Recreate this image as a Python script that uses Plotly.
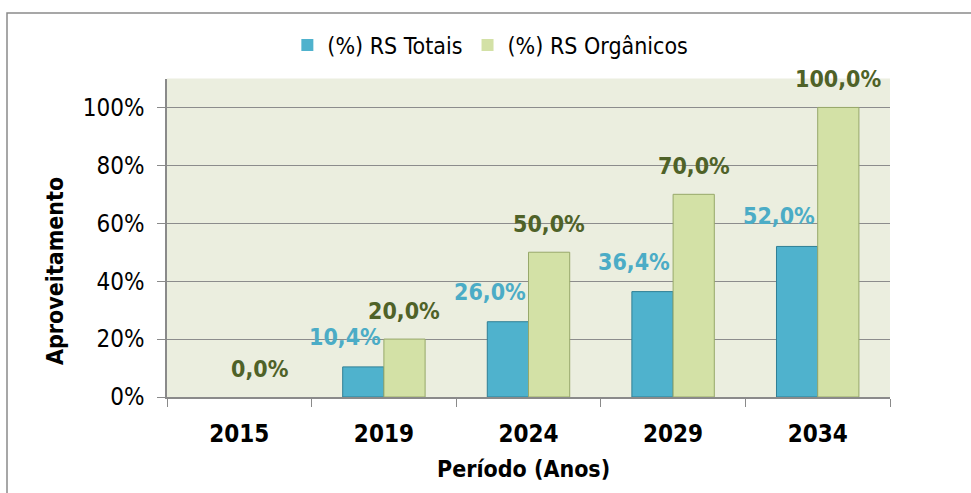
import plotly.graph_objects as go

anos = ["2015", "2019", "2024", "2029", "2034"]
rs_totais = [0.0, 10.4, 26.0, 36.4, 52.0]
rs_organicos = [0.0, 20.0, 50.0, 70.0, 100.0]
y_ticks = [0, 20, 40, 60, 80, 100]
y_tick_labels = ["0%", "20%", "40%", "60%", "80%", "100%"]

FONT = "DejaVu Sans Condensed, Liberation Sans Narrow, sans-serif"
BLUE = "#4fb2cd"
BLUE_LINE = "#2f7f95"
GREEN = "#d3e1a6"
GREEN_LINE = "#97a86a"
BLUE_TXT = "#4bacc6"
GREEN_TXT = "#4f6228"

W, H = 971, 493
L, R, T, B = 167, 81, 76, 96
pw, ph = W - L - R, H - T - B

fig = go.Figure()
fig.add_trace(go.Bar(name="(%) RS Totais", x=anos, y=rs_totais,
                     marker=dict(color=BLUE,
                                 line=dict(color=BLUE_LINE, width=[1 if v > 0 else 0 for v in rs_totais]))))
fig.add_trace(go.Bar(name="(%) RS Orgânicos", x=anos, y=rs_organicos,
                     marker=dict(color=GREEN,
                                 line=dict(color=GREEN_LINE, width=[1 if v > 0 else 0 for v in rs_organicos]))))

def fmt(v):
    return f"{v:.1f}".replace(".", ",") + "%"

annotations = []
for i, v in enumerate(rs_totais):
    if v > 0:
        annotations.append(dict(x=i, y=v, xref="x", yref="y", text=fmt(v), showarrow=False,
                                xshift=-39, yshift=30, yanchor="middle",
                                font=dict(family=FONT, size=23, color=BLUE_TXT, weight="bold")))
for i, v in enumerate(rs_organicos):
    annotations.append(dict(x=i, y=v, xref="x", yref="y", text=fmt(v), showarrow=False,
                            xshift=20.5, yshift=28, yanchor="middle",
                            font=dict(family=FONT, size=23, color=GREEN_TXT, weight="bold")))

# axis titles
annotations.append(dict(x=(523 - L) / pw, y=(H - B - 470) / ph, xref="paper", yref="paper",
                        text="Período (Anos)", showarrow=False, xanchor="center", yanchor="middle",
                        font=dict(family=FONT, size=23, color="black", weight="bold")))
annotations.append(dict(x=(55 - L) / pw, y=(H - B - 270) / ph, xref="paper", yref="paper",
                        text="Aproveitamento", showarrow=False, textangle=-90,
                        xanchor="center", yanchor="middle",
                        font=dict(family=FONT, size=23, color="black", weight="bold")))

shapes = [dict(type="rect", xref="paper", yref="paper",
               x0=(7 - L) / pw, x1=(1010 - L) / pw,
               y0=(H - B - 530) / ph, y1=(H - B - 10) / ph,
               line=dict(color="#8a8a8a", width=1.5), fillcolor="rgba(0,0,0,0)", layer="below")]

fig.update_layout(
    width=W, height=H,
    margin=dict(l=L, r=R, t=T, b=B),
    paper_bgcolor="white",
    plot_bgcolor="#ebeedf",
    barmode="group", bargap=0.43, bargroupgap=0.0,
    font=dict(family=FONT, size=23, color="black"),
    showlegend=True,
    legend=dict(orientation="h", xref="container", yref="container",
                x=0.505, y=1 - 45 / H, xanchor="center", yanchor="middle",
                font=dict(family=FONT, size=23), bgcolor="rgba(0,0,0,0)"),
    annotations=annotations,
    shapes=shapes,
    xaxis=dict(type="category", range=[-0.5, 4.5], showgrid=False, showline=True,
               linecolor="#8a8a8a", linewidth=1.5,
               ticks="outside", tickson="boundaries", ticklen=8, tickcolor="#8a8a8a",
               tickfont=dict(family=FONT, size=24, weight="bold"),
               ticklabelstandoff=14),
    yaxis=dict(range=[0, 110], tickvals=y_ticks, ticktext=y_tick_labels,
               showgrid=True, gridcolor="#8c8c8c", gridwidth=1,
               showline=True, linecolor="#8a8a8a", linewidth=1.5,
               ticks="outside", ticklen=8, tickcolor="#8a8a8a",
               tickfont=dict(family=FONT, size=24), zeroline=False,
               ticklabelstandoff=8),
)

fig.write_html("out.html", config={"displayModeBar": False},
               post_script="document.body.style.margin='0';document.body.style.overflow='hidden';")
